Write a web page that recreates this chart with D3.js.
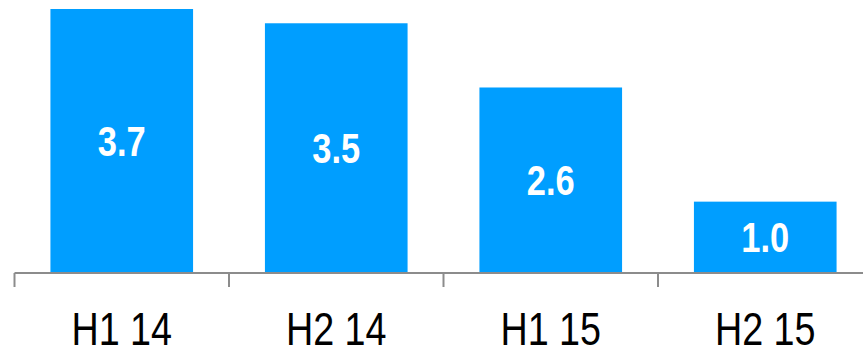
<!DOCTYPE html>
<html>
<head>
<meta charset="utf-8">
<script src="https://cdn.jsdelivr.net/npm/d3@7"></script>
<style>
  html, body { margin: 0; padding: 0; background: #fff; }
  svg { display: block; }
</style>
</head>
<body>
<svg id="chart" width="863" height="350"></svg>
<script>
const categories = ["H1 14", "H2 14", "H1 15", "H2 15"];
const values = [3.7, 3.5, 2.6, 1.0];

const svg = d3.select("#chart");
const baseY = 273;
const fontFamily = "'Liberation Sans', Arial, sans-serif";
const narrow = 0.82; // horizontal squeeze for a condensed look

const x = d3.scaleBand()
  .domain(categories)
  .range([14.5, 872.5])
  .paddingInner(0.335)
  .paddingOuter(0.1675);

const y = d3.scaleLinear()
  .domain([0, 3.7])
  .range([baseY, 9]);

const data = categories.map((c, i) => ({ c, v: values[i] }));

// bars
svg.selectAll("rect.bar")
  .data(data)
  .join("rect")
  .attr("class", "bar")
  .attr("x", d => x(d.c))
  .attr("width", x.bandwidth())
  .attr("y", d => y(d.v))
  .attr("height", d => y(0) - y(d.v))
  .attr("fill", "#009eff");

// value labels, centred in each bar
svg.selectAll("text.val")
  .data(data)
  .join("text")
  .attr("class", "val")
  .attr("transform", d => `translate(${x(d.c) + x.bandwidth() / 2},${(y(d.v) + y(0)) / 2}) scale(${narrow},1)`)
  .attr("dy", "0.36em")
  .attr("text-anchor", "middle")
  .attr("fill", "#fff")
  .attr("font-family", fontFamily)
  .attr("font-weight", "bold")
  .attr("font-size", 42)
  .text(d => d.v.toFixed(1));

// category axis with ticks between bands
const axisG = svg.append("g");
axisG.append("line")
  .attr("x1", 14.5).attr("x2", 863)
  .attr("y1", baseY).attr("y2", baseY)
  .attr("stroke", "#8c8c8c").attr("stroke-width", 2);

const tickXs = categories.map(c => x(c) - x.step() * x.paddingInner() / 2);
tickXs[0] = x.range()[0];
axisG.selectAll("line.tick")
  .data(tickXs)
  .join("line")
  .attr("class", "tick")
  .attr("x1", d => d).attr("x2", d => d)
  .attr("y1", baseY).attr("y2", baseY + 14)
  .attr("stroke", "#8c8c8c").attr("stroke-width", 2);

svg.selectAll("text.cat")
  .data(categories)
  .join("text")
  .attr("class", "cat")
  .attr("transform", d => `translate(${x(d) + x.bandwidth() / 2},345) scale(${narrow},1)`)
  .attr("text-anchor", "middle")
  .attr("fill", "#000")
  .attr("font-family", fontFamily)
  .attr("font-size", 46)
  .text(d => d);
</script>
</body>
</html>
